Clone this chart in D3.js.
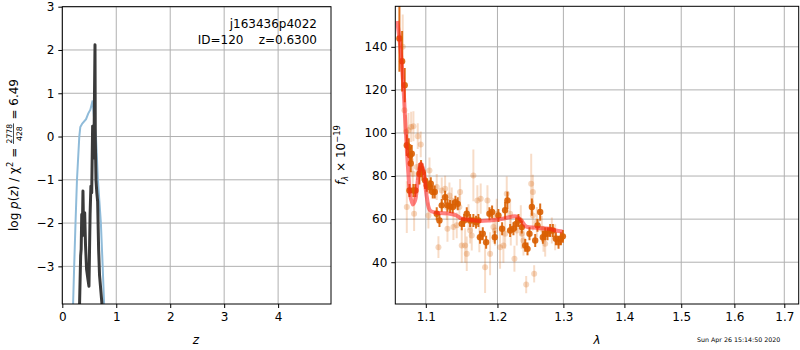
<!DOCTYPE html>
<html>
<head>
<meta charset="utf-8">
<script src="https://cdn.jsdelivr.net/npm/d3@7.9.0/dist/d3.min.js"></script>
<style>
  body { margin: 0; background: #fff; }
  text { font-family: "DejaVu Sans", sans-serif; fill: #000; }
</style>
</head>
<body>
<svg id="fig" width="800" height="350"></svg>
<script>
// ---- p(z) panel ----
const zTicks = [0, 1, 2, 3, 4];
const logpTicks = [-3, -2, -1, 0, 1, 2, 3];

// fitted log p(z) (dark line)
const pzZ    = [0.320, 0.340, 0.350, 0.360, 0.370, 0.383, 0.395, 0.405, 0.415, 0.430, 0.450, 0.475, 0.494, 0.505, 0.515, 0.530, 0.545, 0.562, 0.575, 0.587, 0.606, 0.612, 0.624, 0.640, 0.655, 0.673, 0.690, 0.735];
const pzLogP = [-3.87, -2.76, -2.6, -1.8, -2.3, -1.26, -2.2, -1.9, -1.76, -2.5, -3.07, -3.3, -3.46, -2.6, -1.8, -1.15, -1.3, 0.24, -0.5, -0.22, 2.12, -0.07, -1.0, -1.3, -1.5, -2.6, -3.2, -3.87];

// prior (light blue line)
const priorZ    = [0.200, 0.220, 0.245, 0.272, 0.315, 0.334, 0.370, 0.440, 0.480, 0.520, 0.562, 0.600, 0.624, 0.660, 0.715, 0.745, 0.775];
const priorLogP = [-3.87, -3.0, -2.0, -1.0, 0.0, 0.22, 0.30, 0.40, 0.53, 0.62, 0.83, 0.25, 0.0, -1.0, -2.0, -2.9, -3.87];

const objName = 'j163436p4022';
const objInfo = 'ID=120    z=0.6300';
const chiNum = '2778', chiDen = '428', chiVal = '6.49';

// ---- spectrum panel ----
const waveTicks = [1.1, 1.2, 1.3, 1.4, 1.5, 1.6, 1.7];
const fluxTicks = [40, 60, 80, 100, 120, 140];

const darkWave = [1.0653,1.0688,1.0722,1.0749,1.0775,1.0792,1.0814,1.0801,1.0784,1.0836,
  1.0862,1.0915,1.0937,1.0955,1.0990,1.1013,1.1049,1.1067,1.1093,1.1120,
  1.1147,1.1184,1.1215,1.1261,1.1293,1.1329,1.1366,1.1403,1.1435,1.1491,
  1.1524,1.1561,1.1608,1.1654,1.1692,1.1725,1.1749,1.1788,1.1836,1.1884,
  1.1922,1.1961,1.2014,1.2068,1.2112,1.2146,1.2186,1.2235,1.2275,1.2310,
  1.2360,1.2411,1.2446,1.2476,1.2512,1.2563,1.2598,1.2639,1.2680,1.2716,
  1.2752,1.2793,1.2835,1.2882,1.2924,1.2961,1.2992];
const darkFlux = [143.9,133.3,122.2,94.3,93.5,89.6,90.4,85.8,73.3,73.3,
  73.3,81.1,83.4,81.9,78.0,75.7,74.9,76.4,72.6,72.6,
  62.5,59.4,66.4,70.2,66.4,65.9,65.6,67.9,67.1,57.8,
  59.4,62.5,59.4,59.4,58.6,59.4,51.6,53.2,49.3,62.5,
  63.3,51.6,61.7,55.5,64.1,68.7,54.7,55.5,57.8,59.4,
  56.3,47.8,46.2,53.2,65.6,50.1,57.1,63.3,51.6,53.2,
  53.2,54.7,54.7,50.9,49.3,50.9,52.0];
const darkErr = [15.5,14,8,5,4,4,4,4,3,3,
  3,5,4,4,4,3,3,3,3,3,
  3,3,3,3,3,3,3,3,3,3,
  3,3,3,3,3,3,3,3,3,3,
  3,3,3,3,4,4,3,3,3,3,
  3,3,3,3,4,3,3,4,3,3,
  3,3,3,3,3,3,3];

const lightWave = [1.0696,1.0718,1.0740,1.0749,1.0771,1.0806,1.0827,1.0836,1.0845,1.0880,
  1.0893,1.0933,1.1035,1.1049,1.1147,1.1170,1.1215,1.1261,1.1284,1.1293,
  1.1320,1.1352,1.1375,1.1421,1.1458,1.1468,1.1491,1.1538,1.1561,1.1585,
  1.1608,1.1631,1.1654,1.1711,1.1739,1.1758,1.1821,1.1855,1.1893,1.1941,
  1.1965,1.1990,1.2038,1.2087,1.2112,1.2136,1.2186,1.2196,1.2250,1.2285,
  1.2345,1.2360,1.2385,1.2426,1.2502,1.2527,1.2527,1.2547,1.2588,1.2664,
  1.2690,1.2716,1.2819,1.2871];
const lightFlux = [140.0,110.6,100.5,65.6,101.3,102.8,81.1,103.1,62.5,84.2,
  98.5,94.7,61.7,82.6,74.9,47.0,73.3,74.1,65.6,55.5,
  71.0,68.7,56.3,57.1,65.6,72.6,47.8,47.8,43.9,60.9,
  54.7,52.4,80.3,68.7,51.6,69.5,37.7,68.7,43.9,56.3,
  54.7,62.5,47.0,47.8,53.2,71.8,62.5,54.7,41.6,54.7,
  59.4,53.2,50.1,29.6,76.4,72.6,61.7,34.6,58.6,55.5,
  50.9,48.6,54.7,51.6];
const lightErr = [15,10,8,12,8,7,7,7,8,6,
  6,6,6,6,6,5,6,6,6,6,
  6,6,6,6,6,6,8,8,8,6,
  6,7,12,7,7,7,12,7,10,7,
  7,7,10,8,7,8,7,7,6,7,
  7,7,7,4,14,8,7,4,7,6,
  6,6,6,6];

const modelWave = [1.0625,1.066,1.0705,1.0726,1.075,1.077,1.079,1.0828,1.0858,1.0894,
  1.0934,1.0968,1.1013,1.1057,1.1147,1.1327,1.1418,1.1487,1.1603,1.1744,
  1.1886,1.2079,1.2275,1.235,1.2424,1.2574,1.2777,1.288,1.2986];
const modelFlux = [152,141.6,121.4,107.4,92,81.1,71.8,66.8,68.7,78,
  85.8,82.7,70.3,64,63,62.5,61.7,60.2,59.7,59.1,
  59.4,60.2,61.3,59.4,56.6,56,55.5,54.7,54.3];

const stamp = 'Sun Apr 26 15:14:50 2020';

// ---- drawing ----
const svg = d3.select('#fig');
const fs = 12;
const gridColor = '#b0b0b0';
const darkOrange = '#d95f02';
const keepSpaces = s => s.replace(/ /g, '\u00a0');

function frame(x0, x1, y0, y1, id) {
  svg.append('clipPath').attr('id', id)
    .append('rect').attr('x', x0).attr('y', y0).attr('width', x1 - x0).attr('height', y1 - y0);
}

function drawAxes(xs, ys, xt, yt, xfmt, yfmt) {
  const [x0, x1] = xs.range(), [y1, y0] = ys.range();
  const g = svg.append('g');
  g.selectAll('.gx').data(xt).join('line')
    .attr('x1', d => xs(d)).attr('x2', d => xs(d)).attr('y1', y0).attr('y2', y1)
    .attr('stroke', gridColor).attr('stroke-width', 1);
  g.selectAll('.gy').data(yt).join('line')
    .attr('y1', d => ys(d)).attr('y2', d => ys(d)).attr('x1', x0).attr('x2', x1)
    .attr('stroke', gridColor).attr('stroke-width', 1);
  return function () {
    const ax = svg.append('g').attr('transform', `translate(0,${y1})`)
      .call(d3.axisBottom(xs).tickValues(xt).tickFormat(xfmt).tickSize(4).tickPadding(4));
    const ay = svg.append('g').attr('transform', `translate(${x0},0)`)
      .call(d3.axisLeft(ys).tickValues(yt).tickFormat(yfmt).tickSize(4).tickPadding(4));
    [ax, ay].forEach(a => {
      a.select('.domain').remove();
      a.selectAll('text').attr('font-size', fs).attr('font-family', '"DejaVu Sans", sans-serif');
      a.selectAll('line').attr('stroke', '#000');
    });
    svg.append('rect').attr('x', x0).attr('y', y0).attr('width', x1 - x0).attr('height', y1 - y0)
      .attr('fill', 'none').attr('stroke', '#000').attr('stroke-width', 1);
  };
}

// left panel
const xz = d3.scaleLinear().domain([0, 4.98]).range([62.3, 331]);
const yp = d3.scaleLinear().domain([-3.87, 3]).range([304, 6.7]);
frame(62.3, 331, 6.7, 304, 'clipL');
const finishL = drawAxes(xz, yp, zTicks, logpTicks, d3.format('d'), d3.format('d'));

const pzLine = d3.line().x(d => xz(d[0])).y(d => yp(d[1]));
svg.append('path').datum(d3.zip(priorZ, priorLogP)).attr('d', pzLine)
  .attr('clip-path', 'url(#clipL)')
  .attr('fill', 'none').attr('stroke', '#8fbbd9').attr('stroke-width', 2);
svg.append('path').datum(d3.zip(pzZ, pzLogP)).attr('d', pzLine)
  .attr('clip-path', 'url(#clipL)')
  .attr('fill', 'none').attr('stroke', '#3a3a3a').attr('stroke-width', 3).attr('stroke-linejoin', 'round');
finishL();

svg.append('text').attr('x', 317).attr('y', 27.5).attr('text-anchor', 'end')
  .attr('font-size', fs).text(objName);
svg.append('text').attr('x', 317).attr('y', 43.5).attr('text-anchor', 'end')
  .attr('font-size', fs).text(keepSpaces(objInfo));

svg.append('text').attr('x', 196).attr('y', 344).attr('text-anchor', 'middle')
  .attr('font-size', fs).attr('font-style', 'italic').text('z');

// left y label with fraction
const yl = svg.append('g');
const t1 = yl.append('text').attr('font-size', fs);
t1.append('tspan').text('log\u00a0');
t1.append('tspan').attr('font-style', 'italic').text('p');
t1.append('tspan').text('(');
t1.append('tspan').attr('font-style', 'italic').text('z');
t1.append('tspan').text(keepSpaces(') / χ'));
t1.append('tspan').attr('font-size', fs * 0.7).attr('dy', -5).text('2');
t1.append('tspan').attr('dy', 5).text(keepSpaces(' = '));
const w1 = t1.node().getComputedTextLength();
const num = yl.append('text').attr('font-size', fs * 0.64).attr('y', -5.5).text(chiNum);
const den = yl.append('text').attr('font-size', fs * 0.64).attr('y', 4.8).text(chiDen);
const nw = num.node().getComputedTextLength(), dw = den.node().getComputedTextLength();
const fw = Math.max(nw, dw) + 1;
num.attr('x', w1 + (fw - nw) / 2);
den.attr('x', w1 + (fw - dw) / 2);
yl.append('line').attr('x1', w1).attr('x2', w1 + fw).attr('y1', -4).attr('y2', -4)
  .attr('stroke', '#000').attr('stroke-width', 0.7);
const t3 = yl.append('text').attr('font-size', fs).attr('x', w1 + fw).text(keepSpaces(' = ' + chiVal));
const wTot = w1 + fw + t3.node().getComputedTextLength();
yl.attr('transform', `translate(17.5,155) rotate(-90) translate(${-wTot / 2},0)`);

// right panel
const xw = d3.scaleLog().domain([1.06, 1.73]).range([395.3, 798.7]);
const yf = d3.scaleLinear().domain([20.6, 158.8]).range([304, 6.3]);
frame(395.3, 798.7, 6.3, 304, 'clipR');
const finishR = drawAxes(xw, yf, waveTicks, fluxTicks, d3.format('.1f'), d3.format('d'));

const gs = svg.append('g').attr('clip-path', 'url(#clipR)');
const light = d3.zip(lightWave, lightFlux, lightErr);
const dark = d3.zip(darkWave, darkFlux, darkErr);

gs.selectAll('.le').data(light).join('line')
  .attr('x1', d => xw(d[0])).attr('x2', d => xw(d[0]))
  .attr('y1', d => yf(d[1] - d[2])).attr('y2', d => yf(d[1] + d[2]))
  .attr('stroke', darkOrange).attr('stroke-opacity', 0.22).attr('stroke-width', 2);
gs.selectAll('.lp').data(light).join('circle')
  .attr('cx', d => xw(d[0])).attr('cy', d => yf(d[1])).attr('r', 3)
  .attr('fill', darkOrange).attr('fill-opacity', 0.25);

gs.selectAll('.de').data(dark).join('line')
  .attr('x1', d => xw(d[0])).attr('x2', d => xw(d[0]))
  .attr('y1', d => yf(d[1] - d[2])).attr('y2', d => yf(d[1] + d[2]))
  .attr('stroke', darkOrange).attr('stroke-opacity', 0.9).attr('stroke-width', 2);
gs.selectAll('.dp').data(dark).join('circle')
  .attr('cx', d => xw(d[0])).attr('cy', d => yf(d[1])).attr('r', 3.2)
  .attr('fill', darkOrange).attr('fill-opacity', 0.9);

gs.append('path').datum(d3.zip(modelWave, modelFlux))
  .attr('d', d3.line().x(d => xw(d[0])).y(d => yf(d[1])).curve(d3.curveCatmullRom))
  .attr('fill', 'none').attr('stroke', '#ff1a1a').attr('stroke-opacity', 0.55)
  .attr('stroke-width', 4).attr('stroke-linejoin', 'round');
finishR();

// right y label
const yr = svg.append('text').attr('font-size', fs)
  .attr('transform', 'translate(345,155) rotate(-90)').attr('text-anchor', 'middle');
yr.append('tspan').attr('font-style', 'italic').text('f');
yr.append('tspan').attr('font-size', fs * 0.7).attr('font-style', 'italic').attr('dy', 3).text('λ');
yr.append('tspan').attr('dy', -3).text(keepSpaces(' × 10'));
yr.append('tspan').attr('font-size', fs * 0.7).attr('dy', -5).text('−19');

svg.append('text').attr('x', 597).attr('y', 344).attr('text-anchor', 'middle')
  .attr('font-size', fs).attr('font-style', 'italic').text('λ');

svg.append('text').attr('x', 697).attr('y', 342).attr('font-size', 6.3).text(stamp);
</script>
</body>
</html>
